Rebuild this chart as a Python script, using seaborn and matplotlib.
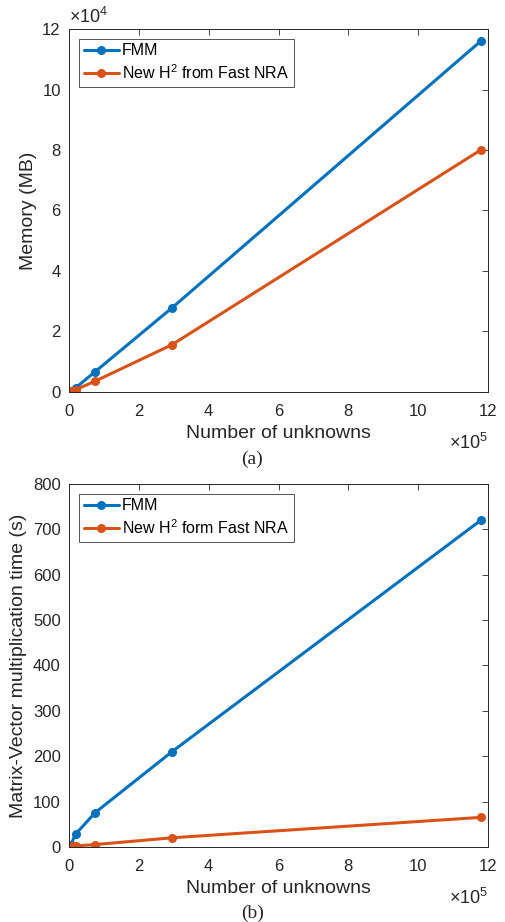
import numpy as np
import pandas as pd
import matplotlib
matplotlib.use("Agg")
import matplotlib.pyplot as plt
import seaborn as sns
from matplotlib.ticker import FuncFormatter

unknowns = [4608, 18432, 73728, 294912, 1179648]
mem_fmm = [250, 1300, 6600, 27800, 116000]
mem_h2 = [150, 700, 3500, 15600, 80000]
time_fmm = [5, 28, 75, 210, 720]
time_h2 = [1, 2, 5, 20, 65]

blue = "#0072BD"
orange = "#D95319"

sns.set_theme(style="white")
plt.rcParams["font.family"] = ["Liberation Sans", "DejaVu Sans"]
plt.rcParams["mathtext.fontset"] = "custom"
plt.rcParams["mathtext.rm"] = "Liberation Sans"

fig = plt.figure(figsize=(5.05, 9.22), dpi=100)
ax1 = fig.add_axes([0.137, 0.575, 0.829, 0.3935])
ax2 = fig.add_axes([0.137, 0.0815, 0.829, 0.3935])


def draw(ax, yf, yh, lab2, ylab):
    df = pd.DataFrame({
        "x": unknowns * 2,
        "y": yf + yh,
        "method": ["FMM"] * 5 + [lab2] * 5,
    })
    sns.lineplot(data=df, x="x", y="y", hue="method", palette=[blue, orange],
                 marker="o", markersize=6.5, markeredgewidth=0, linewidth=2.2,
                 ax=ax)
    ax.set_xlim(0, 1.2e6)
    ax.set_xticks(np.arange(0, 1.21e6, 2e5))
    ax.xaxis.set_major_formatter(FuncFormatter(lambda v, p: f"{v/1e5:g}"))
    ax.tick_params(direction="in", length=4, width=0.6, top=True, right=True,
                   labelsize=12, colors="#262626", pad=6)
    ax.tick_params(axis="x", pad=9)
    for s in ax.spines.values():
        s.set_color("#262626")
        s.set_linewidth(0.7)
    ax.set_xlabel("Number of unknowns", fontsize=14, color="#262626", labelpad=4)
    ax.set_ylabel(ylab, fontsize=14, color="#262626", labelpad=4)
    ax.text(1.0, -0.14, r"$\times10^5$", transform=ax.transAxes, ha="right",
            va="center", fontsize=13, color="#262626")
    leg = ax.legend(loc="upper left", fontsize=11.5, frameon=True, fancybox=False,
                    borderaxespad=0.6, handlelength=2.2, handletextpad=0.2,
                    borderpad=0.3, labelspacing=0.3)
    leg.get_frame().set_edgecolor("#262626")
    leg.get_frame().set_linewidth(0.7)
    for t in leg.get_texts():
        t.set_color("#000000")


draw(ax1, mem_fmm, mem_h2, r"New H$^2$ from Fast NRA", "Memory (MB)")
ax1.set_ylim(0, 1.2e5)
ax1.set_yticks(np.arange(0, 1.21e5, 2e4))
ax1.yaxis.set_major_formatter(FuncFormatter(lambda v, p: f"{v/1e4:g}"))
ax1.text(0.0, 1.005, r"$\times10^4$", transform=ax1.transAxes, ha="left",
         va="bottom", fontsize=13, color="#262626")

draw(ax2, time_fmm, time_h2, r"New H$^2$ form Fast NRA",
     "Matrix-Vector multiplication time (s)")
ax2.set_ylim(0, 800)
ax2.set_yticks(np.arange(0, 801, 100))

fig.text(0.5, 1 - 459 / 922, "(a)", ha="center", va="center", fontsize=14,
         family=["Liberation Serif", "DejaVu Serif"])
fig.text(0.5, 1 - 913 / 922, "(b)", ha="center", va="center", fontsize=14,
         family=["Liberation Serif", "DejaVu Serif"])

fig.savefig("out.png", dpi=100, facecolor="white")
